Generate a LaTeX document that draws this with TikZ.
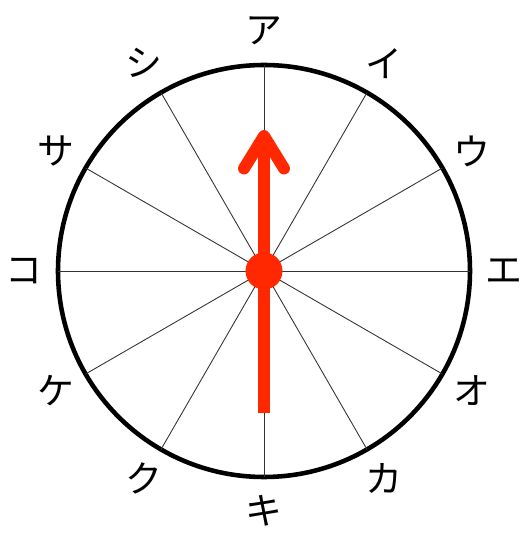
\documentclass[tikz,border=0pt]{standalone}
\usepackage{fontspec}
\newfontfamily\jpfont{Noto Sans CJK JP}
\usepackage{tikz}
\usetikzlibrary{arrows.meta}
\definecolor{needlered}{RGB}{255,40,0}

\begin{document}
\begin{tikzpicture}[
    rim/.style={line width=2.6pt},
    spoke/.style={line width=0.5pt, black!80},
    mark label/.style={font=\jpfont\fontsize{21}{25}\selectfont, inner sep=0pt},
    needle/.style={needlered, line width=6.8pt,
      -{Straight Barb[length=6.5mm, width=8mm, round]}},
  ]
  \useasboundingbox (-5.28,-5.32) rectangle (5.26,5.42);
  \coordinate (o) at (0,0);
  \draw[rim] (o) circle (4.12);
  \foreach \a in {0,30,...,330} {
    \coordinate (s\a) at (\a:4.12);
    \draw[spoke] (o) -- (s\a);
  }
  \foreach \t [count=\i] in {ア,イ,ウ,エ,オ,カ,キ,ク,ケ,コ,サ,シ}
    \node[mark label] (m\i) at ({120-30*\i}:4.8) {\t};
  % needle
  \coordinate (tail) at (0,-2.84);
  \coordinate (tip) at (0,2.82);
  \draw[needle] (tail) -- (tip);
  \node[circle, fill=needlered, minimum size=0.74cm, inner sep=0pt] (hub) at (o) {};
\end{tikzpicture}
\end{document}
